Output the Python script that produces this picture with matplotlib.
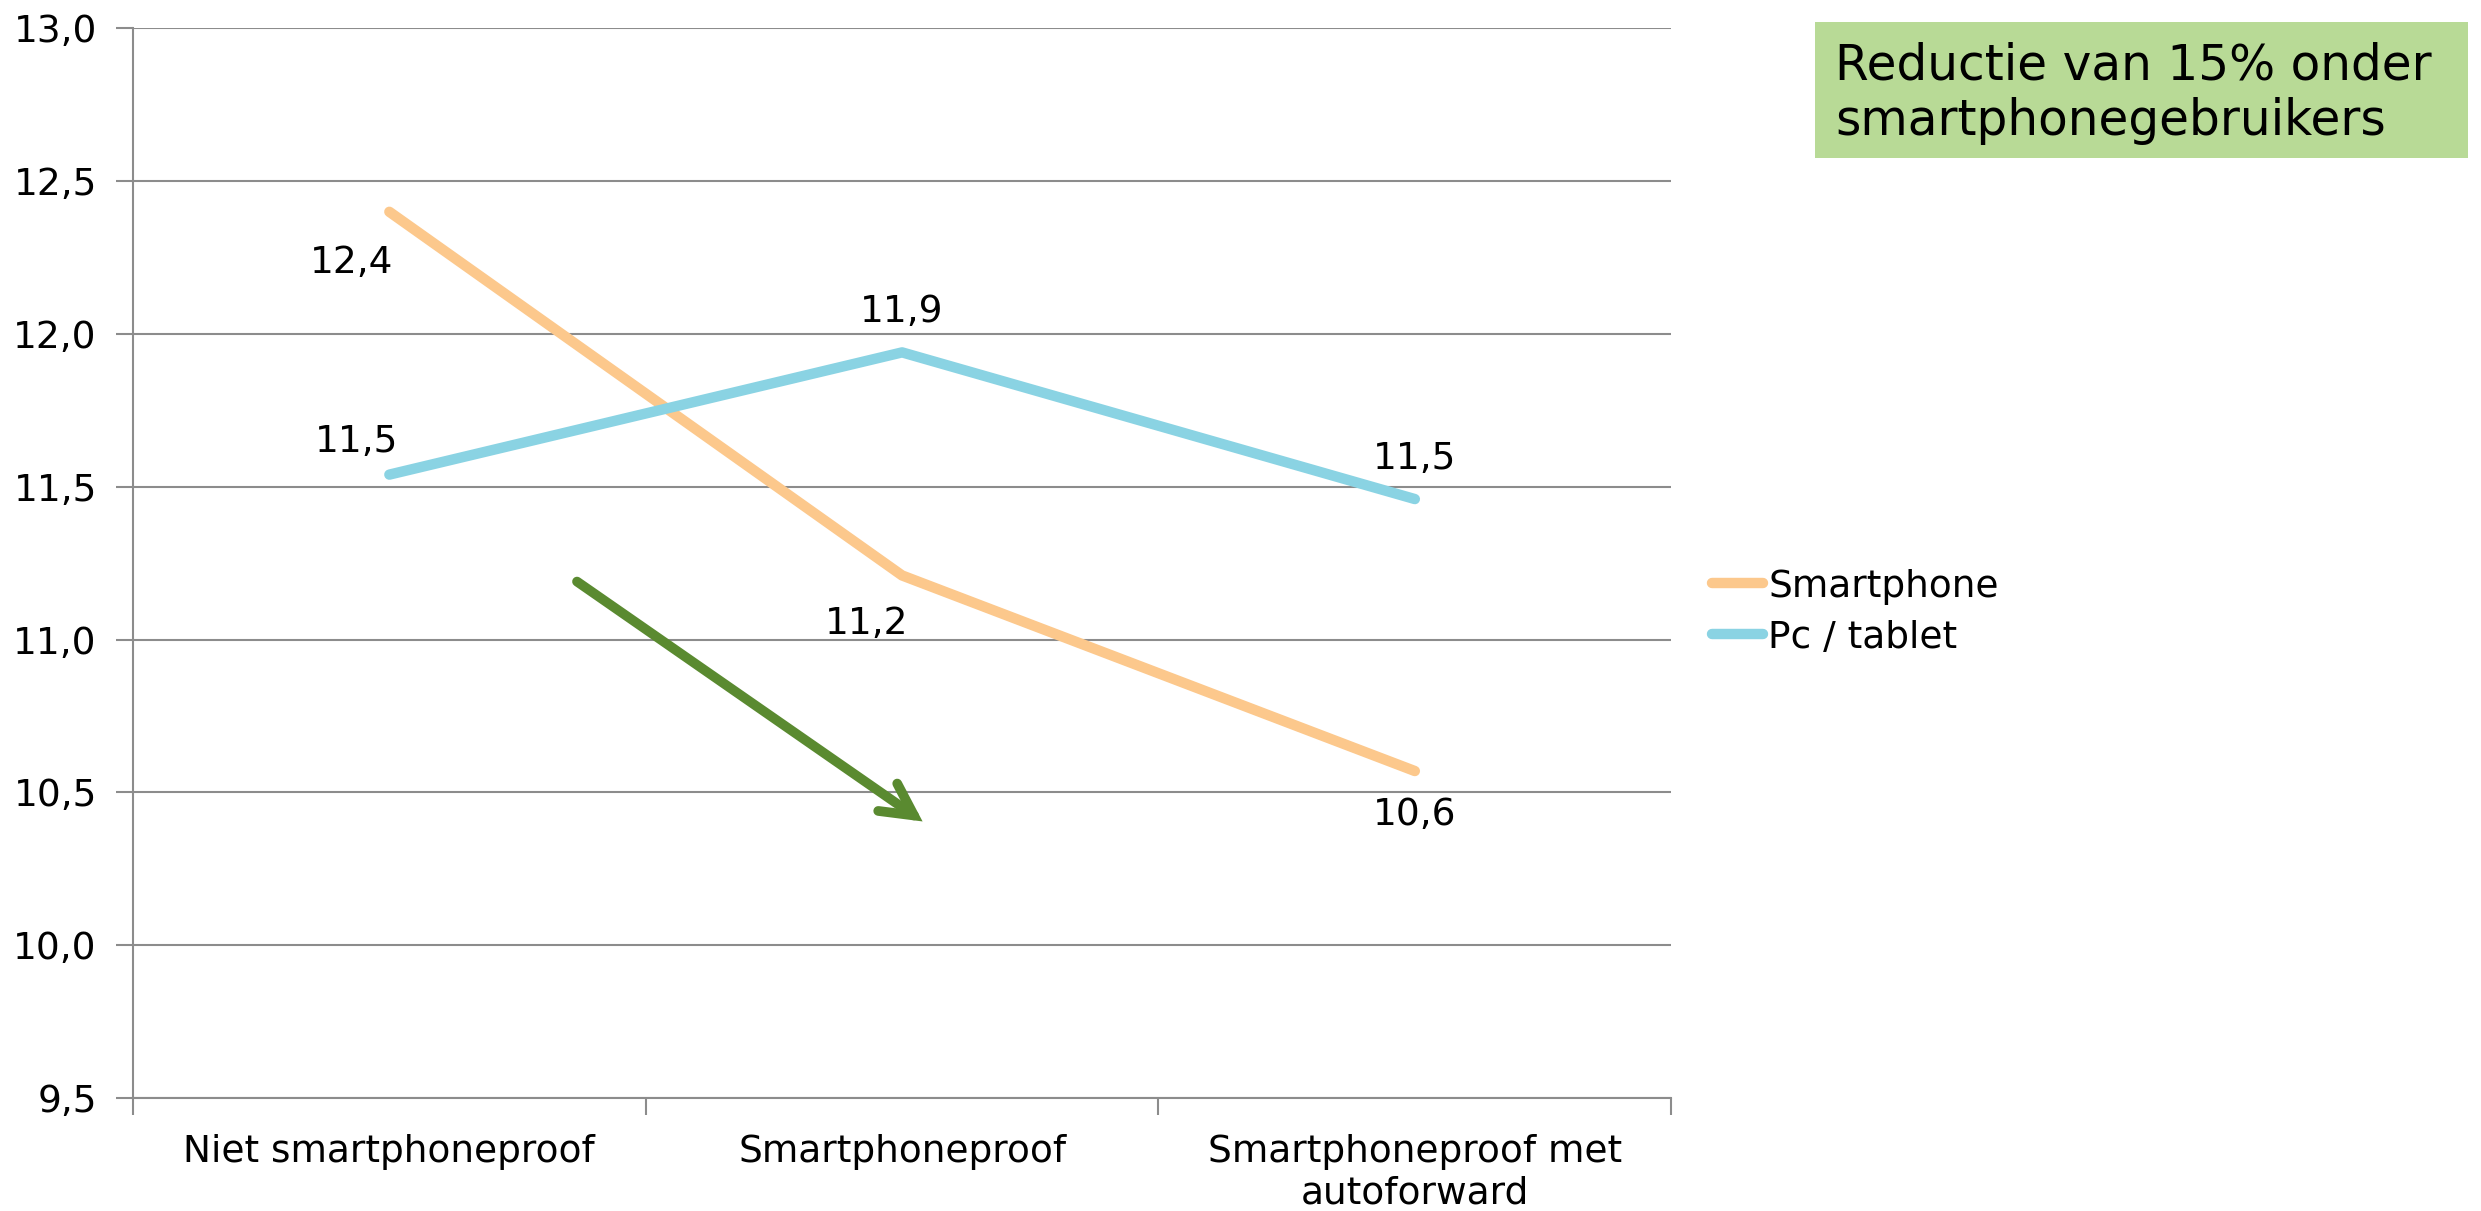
import matplotlib
matplotlib.use("Agg")
import matplotlib.pyplot as plt
from matplotlib.patches import Rectangle

categories = ["Niet smartphoneproof", "Smartphoneproof", "Smartphoneproof met\nautoforward"]
smartphone = [12.40, 11.21, 10.57]
pc_tablet = [11.54, 11.94, 11.46]
smartphone_labels = ["12,4", "11,2", "10,6"]
pc_labels = ["11,5", "11,9", "11,5"]
yticks = [9.5, 10.0, 10.5, 11.0, 11.5, 12.0, 12.5, 13.0]

plt.rcParams['font.family'] = ['DejaVu Sans']

fig = plt.figure(figsize=(24.81, 12.11), dpi=100)
ax = fig.add_axes([0.0536, 0.0933, 0.62, 0.8832])

x = list(range(len(categories)))
orange = '#FCC88C'
blue = '#8AD3E3'
grid = '#8C8C8C'

ax.plot(x, smartphone, color=orange, lw=7.5, solid_capstyle='round', label='Smartphone', zorder=3)
ax.plot(x, pc_tablet, color=blue, lw=7.5, solid_capstyle='round', label='Pc / tablet', zorder=3)

fs = 27
# data labels (offsets in pixels)
s_off = [(-38, -51), (-35, -49), (0, -44)]
p_off = [(-33, 33), (0, 40), (0, 40)]
for i in x:
    ax.annotate(smartphone_labels[i], (i, smartphone[i]), xytext=s_off[i], textcoords='offset pixels',
                ha='center', va='center', fontsize=fs)
    ax.annotate(pc_labels[i], (i, pc_tablet[i]), xytext=p_off[i], textcoords='offset pixels',
                ha='center', va='center', fontsize=fs)

# trend arrow
ax.annotate('', xy=(1.04, 10.405), xytext=(0.366, 11.19),
            arrowprops=dict(arrowstyle='->,head_length=1.15,head_width=0.6', mutation_scale=20,
                            color='#5A8A30', lw=7, capstyle='round', joinstyle='miter',
                            shrinkA=0, shrinkB=0))

ax.set_xlim(-0.5, 2.5)
ax.set_ylim(9.5, 13.0)
ax.set_yticks(yticks)
ax.set_yticklabels([f"{v:.1f}".replace('.', ',') for v in yticks], fontsize=fs)
ax.set_xticks(x)
ax.set_xticklabels(categories, fontsize=fs)
ax.set_xticks([-0.5, 0.5, 1.5, 2.5], minor=True)
ax.tick_params(axis='x', which='major', length=0, pad=26)
ax.tick_params(axis='x', which='minor', length=12, color=grid, width=1.5)
ax.tick_params(axis='y', length=12, color=grid, width=1.5, pad=14)
ax.grid(axis='y', color=grid, lw=1.5)
ax.set_axisbelow(True)
for s in ['top', 'right']:
    ax.spines[s].set_visible(False)
for s in ['left', 'bottom']:
    ax.spines[s].set_color(grid)
    ax.spines[s].set_linewidth(1.5)

leg = fig.legend(loc='center left', bbox_to_anchor=(0.690, 0.4946), frameon=False, fontsize=fs,
                 handlelength=1.35, handletextpad=0.15, labelspacing=0.4, borderpad=0, borderaxespad=0)

# annotation box
fig.patches.append(Rectangle((0.7316, 0.8695), 0.2632, 0.1123, transform=fig.transFigure,
                             facecolor='#B8DA96', edgecolor='none'))
fig.text(0.7397, 0.923, "Reductie van 15% onder\nsmartphonegebruikers", fontsize=35, ha='left', va='center',
         linespacing=1.2)

fig.savefig('out.png', dpi=100)
